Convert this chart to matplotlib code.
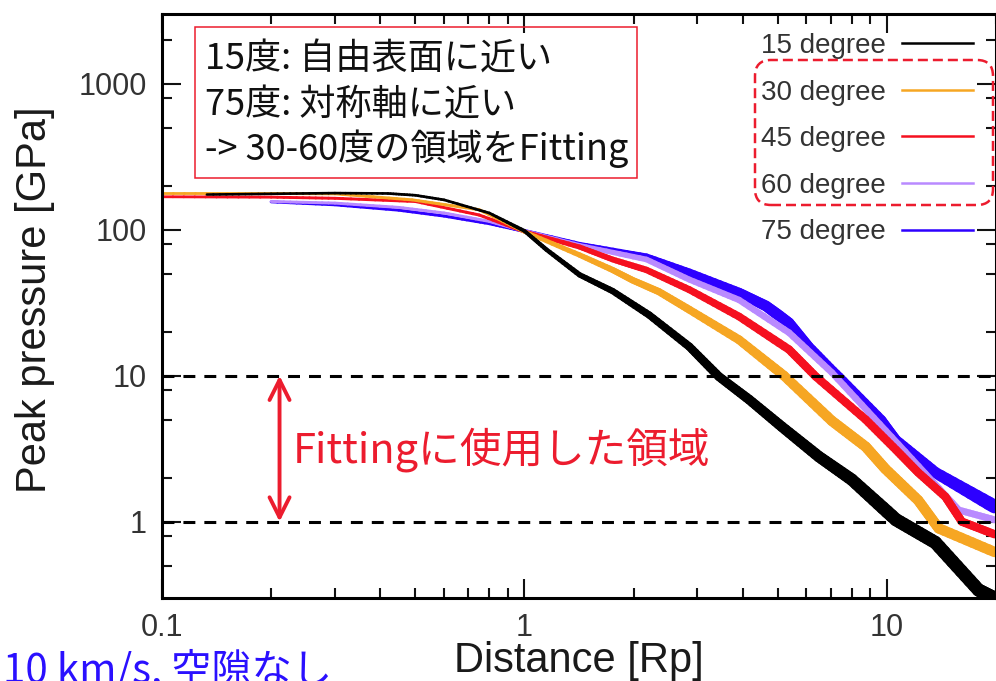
import numpy as np
import matplotlib
matplotlib.use("Agg")
import matplotlib.pyplot as plt
from matplotlib.collections import LineCollection
from matplotlib.patches import FancyBboxPatch, Rectangle
from matplotlib.lines import Line2D
from matplotlib.ticker import FixedLocator, LogLocator, FuncFormatter, NullFormatter
from matplotlib.transforms import IdentityTransform

plt.rcParams['font.family'] = ['Liberation Sans', 'DejaVu Sans']
CJK = ['Noto Sans CJK JP', 'DejaVu Sans']

# ---------------- data ----------------
labels = ['15 degree', '30 degree', '45 degree', '60 degree', '75 degree']
colors = ['#000000', '#f6a623', '#f5101f', '#b98aff', '#2d00ff']

x15 = [0.133, 0.2, 0.3, 0.42, 0.5, 0.6, 0.8, 1.0, 1.15, 1.42, 1.75, 2.21, 2.85, 3.44, 4.17, 5.13, 6.49, 8.0, 10.6, 13.6, 17.9, 19.8]
y15 = [174, 176, 178, 177, 172, 160, 130, 98, 73, 49, 38, 26, 15.8, 9.85, 6.85, 4.47, 2.79, 1.94, 1.03, 0.72, 0.34, 0.30]

x30 = [0.1, 0.2, 0.3, 0.49, 0.75, 1.0, 1.42, 1.75, 1.99, 2.35, 2.85, 3.91, 5.2, 7.05, 8.74, 9.9, 12.2, 13.9, 19.8]
y30 = [177, 177, 176, 160, 137, 97, 67, 53, 45, 37.6, 28.3, 17.6, 10.0, 4.9, 3.26, 2.3, 1.4, 0.9, 0.62]

x45 = [0.1, 0.2, 0.3, 0.5, 0.75, 1.0, 1.42, 1.75, 2.17, 2.85, 3.91, 5.37, 6.37, 8.74, 10.6, 12.2, 14.5, 16.1, 19.8]
y45 = [168, 167, 164, 156, 126, 97, 76, 62.5, 53, 38.8, 25.4, 15.1, 9.85, 5.0, 3.1, 2.17, 1.48, 1.0, 0.82]

x60 = [0.2, 0.3, 0.45, 0.6, 0.8, 1.0, 1.42, 2.17, 2.85, 3.91, 5.37, 7.05, 10.3, 15.8, 19.8]
y60 = [156, 152, 142, 130, 114, 98, 78, 62.5, 45.5, 33, 19.7, 10.5, 3.8, 1.2, 1.03]

x75 = [0.2, 0.3, 0.45, 0.6, 0.8, 1.0, 1.42, 2.17, 2.85, 3.91, 4.64, 5.37, 6.1, 7.4, 9.67, 10.6, 13.6, 19.8]
y75 = [155, 148, 136, 124, 110, 98, 79, 65, 50.7, 37, 30, 23, 15.8, 9.85, 5.0, 3.65, 2.17, 1.27]

series_x = [x15, x30, x45, x60, x75]
series_y = [y15, y30, y45, y60, y75]

fit_range = [1, 10]
xticks = [0.1, 1, 10]
yticks = [1, 10, 100, 1000]

box_lines = ['15度: 自由表面に近い', '75度: 対称軸に近い', '-> 30-60度の領域をFitting']
fit_label = 'Fittingに使用した領域'
note_label = '10 km/s, 空隙なし'

# ---------------- style (line width in points along log10 x) ----------------
w_knots = [-1.0, -0.1, 0.3, 0.7, 0.85, 1.0, 1.3]
w_vals = [
    [1.8, 2.0, 5.0, 7.5, 8.5, 9.5, 9.5],   # 15
    [2.0, 2.2, 4.8, 7.0, 7.5, 7.5, 7.5],   # 30
    [2.0, 2.2, 4.5, 6.0, 6.0, 6.0, 6.0],   # 45
    [2.0, 2.2, 4.0, 4.8, 4.8, 4.8, 5.0],   # 60
    [2.0, 2.2, 4.8, 8.0, 6.0, 6.5, 10.0],  # 75
]
zorders = [2.5, 2.4, 2.3, 2.2, 2.1]

fig = plt.figure(figsize=(9.96, 6.81), dpi=100)
W, H = 996, 681
ax = fig.add_axes([162 / W, 1 - 598 / H, (996 - 162) / W, (598 - 14) / H])
ax.set_xscale('log')
ax.set_yscale('log')

for xs, ys, c, wv, z in zip(series_x, series_y, colors, w_vals, zorders):
    xs = np.asarray(xs, float)
    ys = np.asarray(ys, float)
    lx, ly = np.log10(xs), np.log10(ys)
    # subdivide each straight segment (in log space) so the width can vary smoothly
    px, py = [], []
    for i in range(len(xs) - 1):
        t = np.linspace(0, 1, 10, endpoint=False)
        px.extend(lx[i] + t * (lx[i + 1] - lx[i]))
        py.extend(ly[i] + t * (ly[i + 1] - ly[i]))
    px.append(lx[-1]); py.append(ly[-1])
    px = 10 ** np.array(px); py = 10 ** np.array(py)
    pts = np.column_stack([px, py])
    segs = np.stack([pts[:-1], pts[1:]], axis=1)
    mid = 0.5 * (np.log10(px[:-1]) + np.log10(px[1:]))
    widths = np.interp(mid, w_knots, wv)
    lc = LineCollection(segs, colors=c, linewidths=widths, capstyle='round',
                        joinstyle='round', zorder=z)
    ax.add_collection(lc)

ax.set_xlim(0.1, 20)
ax.set_ylim(0.3, 3000)

for yv in fit_range:
    ax.axhline(yv, color='black', lw=2.2, dashes=(3.9, 2.95), zorder=4)

red = '#ec1c2e'
arrow_x = 0.211
ax.annotate('', xy=(arrow_x, fit_range[0]), xytext=(arrow_x, fit_range[1]),
            arrowprops=dict(arrowstyle='<->,head_length=0.72,head_width=0.36',
                            color=red, lw=2.8, shrinkA=0, shrinkB=0,
                            mutation_scale=20), zorder=5)

ax.xaxis.set_major_locator(FixedLocator(xticks))
ax.xaxis.set_minor_locator(LogLocator(base=10, subs=np.arange(2, 10), numticks=30))
ax.yaxis.set_major_locator(FixedLocator(yticks))
ax.yaxis.set_minor_locator(LogLocator(base=10, subs=[2, 5, 8], numticks=30))
fmt = FuncFormatter(lambda v, p: f'{v:g}')
ax.xaxis.set_major_formatter(fmt)
ax.yaxis.set_major_formatter(fmt)
ax.xaxis.set_minor_formatter(NullFormatter())
ax.yaxis.set_minor_formatter(NullFormatter())
ax.tick_params(which='both', direction='in', top=True, right=True, width=1.5,
               color='#111111', labelcolor='#333333', labelsize=22, pad=11)
ax.tick_params(which='major', length=14)
ax.tick_params(which='minor', length=7)
for s in ax.spines.values():
    s.set_linewidth(2.2)

ax.set_xlabel('Distance [Rp]', fontsize=30, color='#1a1a1a', va='top')
ax.set_ylabel('Peak pressure [GPa]', fontsize=30, color='#1a1a1a')
ax.xaxis.set_label_coords(0.5, -0.074)
ax.yaxis.set_label_coords(-0.128, 0.51)

handles = [Line2D([], [], color=c, lw=1.8) for c in colors]
ax.legend(handles, labels, loc='upper right', bbox_to_anchor=(973 / W, 1 - 33 / H),
          bbox_transform=fig.transFigure, frameon=False, markerfirst=False,
          fontsize=20, handlelength=2.55, handletextpad=0.6, labelspacing=0.74,
          borderpad=0, borderaxespad=0, labelcolor='#333333')

# dashed rounded box around 30-60 degree entries
fig.add_artist(FancyBboxPatch((755, H - 205), 993 - 755, 205 - 60,
                              boxstyle='round,pad=0,rounding_size=16',
                              transform=IdentityTransform(), fill=False,
                              ec=red, lw=1.8, ls=(0, (4, 2))))

# note box
fig.add_artist(Rectangle((195 / W, 1 - 178 / H), (637 - 195) / W, (178 - 27) / H,
                         transform=fig.transFigure, fill=False, ec=red, lw=1.1))
for i, t in enumerate(box_lines):
    fig.text(205 / W, 1 - (70 + 45 * i) / H, t, fontsize=26, va='baseline',
             ha='left', family=CJK, color='#111111')

fig.text(293 / W, 1 - 450 / H, fit_label, fontsize=30, va='center', ha='left',
         family=CJK, color=red)
fig.text(3 / W, -2 / H, note_label, fontsize=29, va='baseline', ha='left',
         family=CJK, color='#2a10ff')

fig.savefig('out.png', dpi=100)
